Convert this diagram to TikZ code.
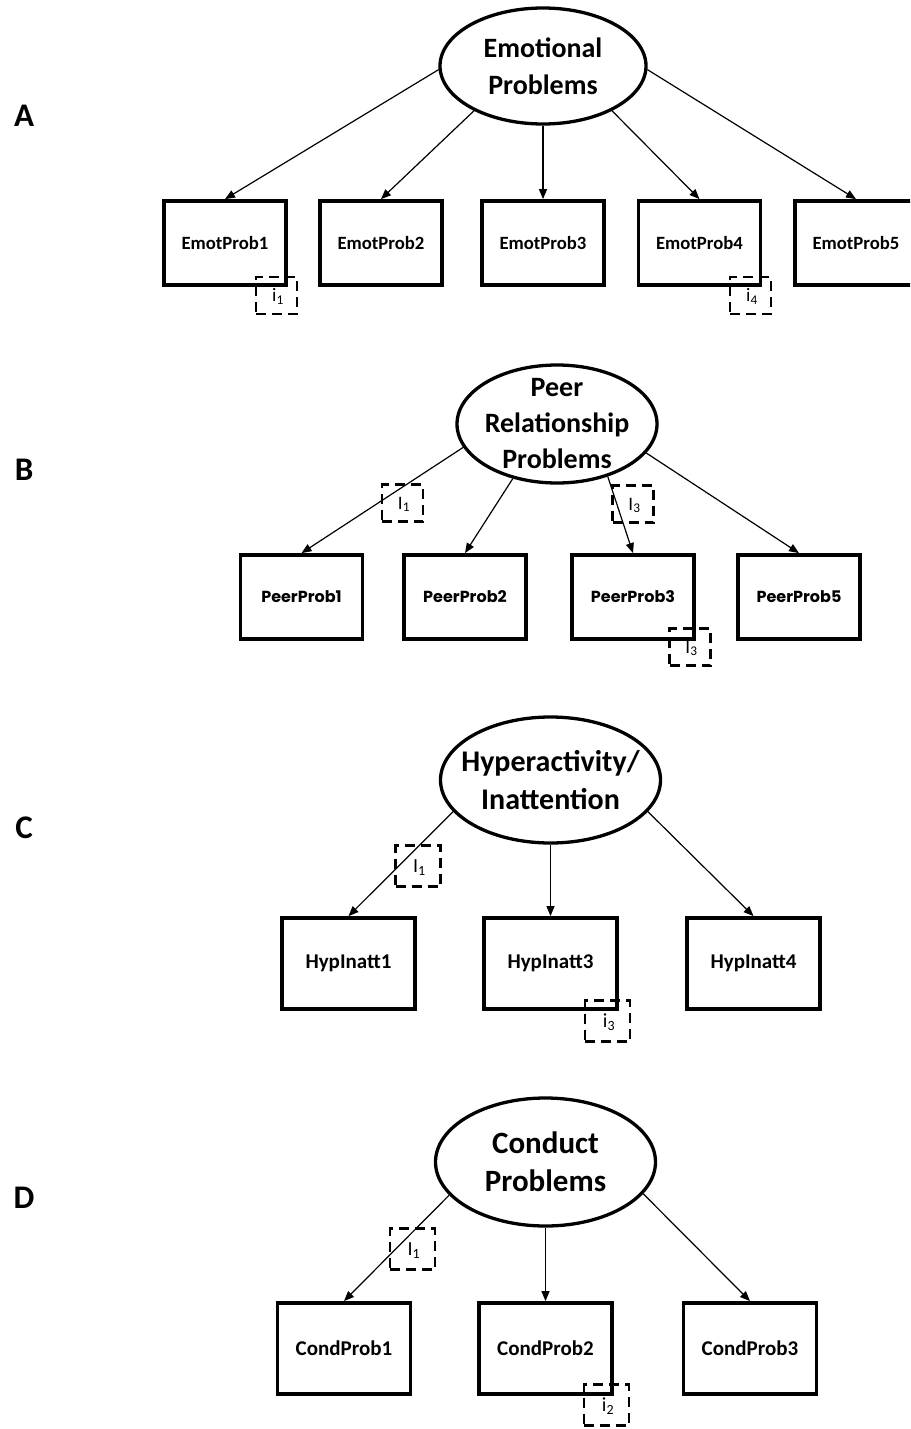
\documentclass[tikz,border=0pt]{standalone}
\usepackage{fontspec}
\setmainfont{Carlito}
\newfontfamily\geo{Poppins}
\usetikzlibrary{arrows.meta,shapes.geometric}
\newcommand{\ilab}[2]{\hspace*{3pt}\raisebox{-6pt}[0pt][0pt]{#1\textsubscript{#2}}}
\begin{document}
\begin{tikzpicture}[x=1pt,y=-1pt,
  latent/.style={ellipse, draw, line width=3.3pt, inner sep=-30pt, align=center},
  obs/.style={rectangle, draw, line width=3.8pt, inner sep=0pt},
  obsAB/.style={obs, minimum width=122pt, minimum height=84pt},
  obsCD/.style={obs, minimum width=133pt, minimum height=91pt, font=\bfseries\fontsize{21}{24}\selectfont},
  iboxS/.style={rectangle, draw, line width=2.3pt, dash pattern=on 10pt off 6pt, minimum width=41pt, minimum height=37pt, inner sep=0pt, font=\fontsize{19}{21}\selectfont},
  iboxL/.style={iboxS, minimum width=45pt, minimum height=41pt, font=\fontsize{20}{22}\selectfont},
  load/.style={-{Triangle[length=10pt,width=8pt]}, line width=1.2pt},
  panel/.style={font=\bfseries\fontsize{33}{36}\selectfont}
]
\useasboundingbox (0,0) rectangle (910,1429);
\clip (0,0) rectangle (910,1429);
\fill[white] (0,0) rectangle (910,1429);

% ---------------- Panel A ----------------
\node[panel] (la) at (24,116) {A};
\node[latent, minimum width=206pt, minimum height=116pt, font=\bfseries\fontsize{28}{37}\selectfont] (ea) at (543,66) {Emotional\\Problems};
\begin{scope}[every node/.style={obsAB, font=\bfseries\fontsize{18.7}{22}\selectfont}]
\node (e1) at (225,243) {EmotProb1};
\node (e2) at (381,243) {EmotProb2};
\node (e3) at (543,243) {EmotProb3};
\node (e4) at (699.5,243) {EmotProb4};
\node (e5) at (856,243) {EmotProb5};
\end{scope}
\draw[load] (ea.182) -- (e1.north);
\draw[load] (ea.213) -- (e2.north);
\draw[load] (ea.south) -- (e3.north);
\draw[load] (ea.327) -- (e4.north);
\draw[load] (ea.358) -- (e5.north);
\node[iboxS] (ia1) at (276.5,295.5) {\ilab{i}{1}};
\node[iboxS] (ia4) at (750.5,295.5) {\ilab{i}{4}};

% ---------------- Panel B ----------------
\node[panel] (lb) at (24,470) {B};
\node[latent, minimum width=200pt, minimum height=118pt, font=\bfseries\fontsize{28}{36}\selectfont] (eb) at (557,424) {Peer\\Relationship\\Problems};
\begin{scope}[every node/.style={obsAB, font=\geo\bfseries\fontsize{16}{20}\selectfont}]
\node (p1) at (301.5,597) {PeerProb1};
\node (p2) at (465,597) {PeerProb2};
\node (p3) at (633,597) {PeerProb3};
\node (p5) at (799,597) {PeerProb5};
\end{scope}
\draw[load] (eb.194) -- (p1.north);
\draw[load] (eb.231) -- (p2.north);
\draw[load] (eb.314) -- (p3.north);
\draw[load] (eb.342) -- (p5.north);
\node[iboxS] (ib1) at (402.5,503) {\ilab{I}{1}};
\node[iboxS] (ib3) at (633,504) {\ilab{I}{3}};
\node[iboxS] (ib3c) at (690,647) {\ilab{I}{3}};

% ---------------- Panel C ----------------
\node[panel] (lc) at (24,828) {C};
\node[latent, minimum width=220pt, minimum height=126pt, font=\bfseries\fontsize{30}{38}\selectfont] (ec) at (550.5,780) {Hyperactivity/\\Inattention};
\node[obsCD] (h1) at (348.5,963.5) {HypInatt1};
\node[obsCD] (h3) at (550.5,963.5) {HypInatt3};
\node[obsCD] (h4) at (753.5,963.5) {HypInatt4};
\draw[load] (ec.198) -- (h1.north);
\draw[load] (ec.south) -- (h3.north);
\draw[load] (ec.342) -- (h4.north);
\node[iboxL] (ic1) at (418,866) {\ilab{I}{1}};
\node[iboxL] (ic3) at (607.5,1021) {\ilab{i}{3}};

% ---------------- Panel D ----------------
\node[panel] (ld) at (24,1198) {D};
\node[latent, minimum width=220pt, minimum height=128pt, font=\bfseries\fontsize{31}{38}\selectfont] (ed) at (545.5,1162) {Conduct\\Problems};
\node[obsCD] (c1) at (344,1348.5) {CondProb1};
\node[obsCD] (c2) at (545.5,1348.5) {CondProb2};
\node[obsCD] (c3) at (750,1348.5) {CondProb3};
\draw[load] (ed.199) -- (c1.north);
\draw[load] (ed.south) -- (c2.north);
\draw[load] (ed.342) -- (c3.north);
\node[iboxL] (id1) at (412.5,1249) {\ilab{I}{1}};
\node[iboxL] (id2) at (606.5,1405) {\ilab{i}{2}};
\end{tikzpicture}
\end{document}
